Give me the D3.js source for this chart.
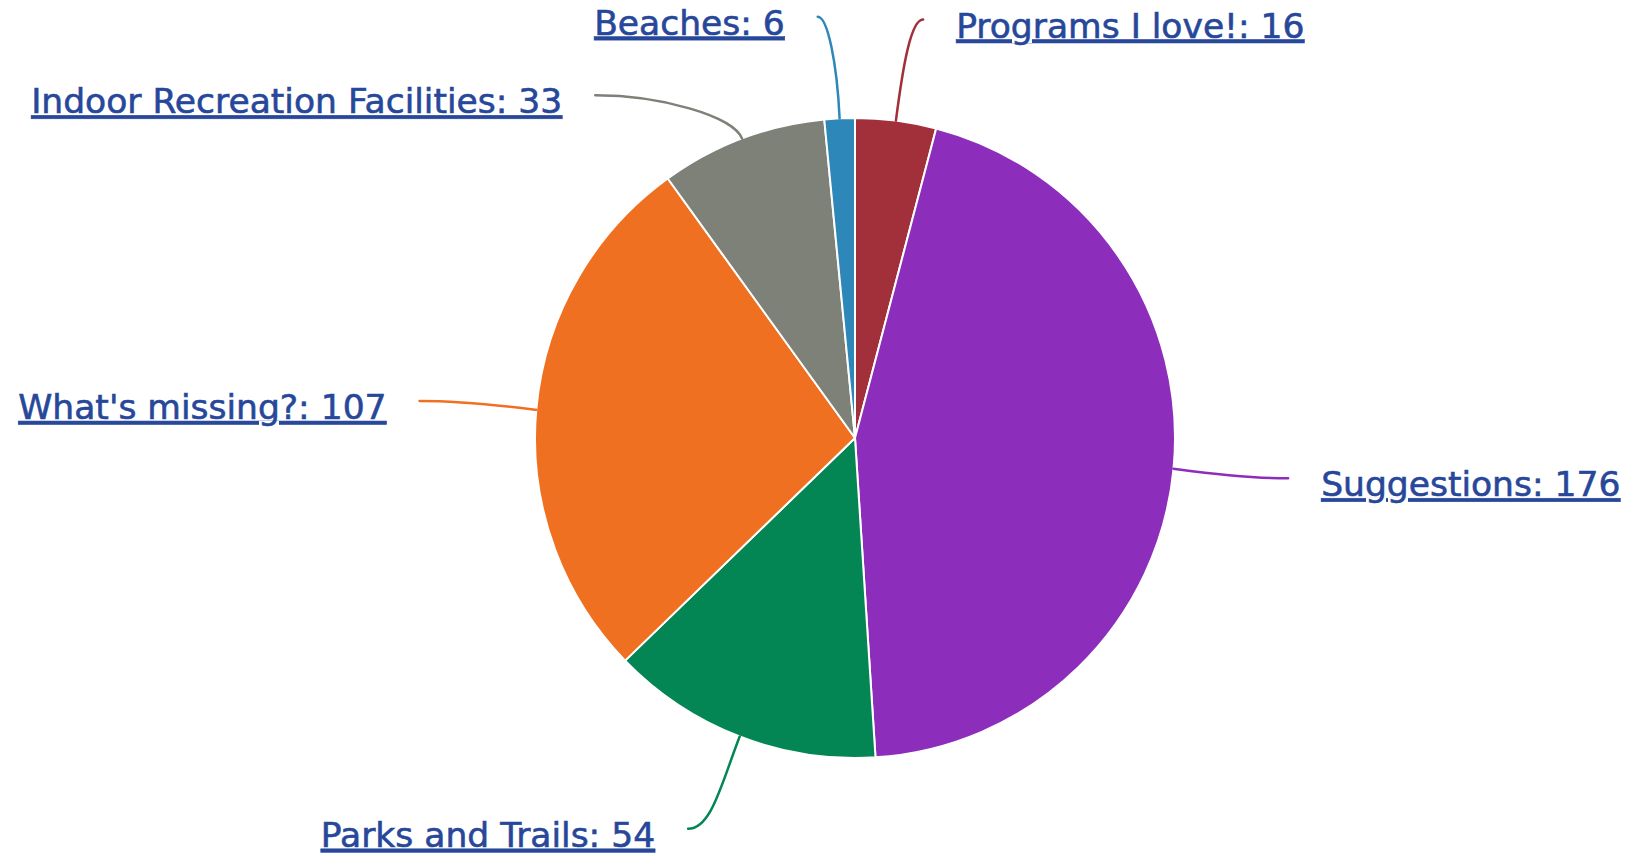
<!DOCTYPE html>
<html>
<head>
<meta charset="utf-8">
<script src="https://cdn.jsdelivr.net/npm/d3@7"></script>
<style>
  html, body { margin: 0; padding: 0; background: #ffffff; }
  svg { display: block; }
  .label { font-family: "DejaVu Sans", Verdana, sans-serif; fill: #27479a; stroke: #27479a; stroke-width: 0.6px; text-decoration: underline; }
</style>
</head>
<body>
<div id="chart"></div>
<script>
// Responses by topic, clockwise from 12 o'clock
const categories = ["Programs I love!", "Suggestions", "Parks and Trails", "What's missing?", "Indoor Recreation Facilities", "Beaches"];
const counts = [16, 176, 54, 107, 33, 6];
const colors = ["#a2303a", "#8d2dbb", "#038654", "#f07022", "#7d8177", "#2e87b9"];

// Label placement: angle nudge (degrees) and distance beyond the rim for each connector end
const labelNudge = [1.9, -0.2, 2.0, -0.2, -16.5, -2.3];
const labelReach = [104, 115, 105, 117, 110, 103];

const width = 1631, height = 857;
const cx = 855, cy = 438, radius = 320;

const svg = d3.select("#chart").append("svg")
  .attr("width", width).attr("height", height);

const data = categories.map((c, i) => ({ name: c, value: counts[i], color: colors[i], i }));

const pie = d3.pie().sort(null).value(d => d.value);
const arcs = pie(data);
const arc = d3.arc().innerRadius(0).outerRadius(radius);

const g = svg.append("g").attr("transform", `translate(${cx},${cy})`);

g.selectAll("path.slice")
  .data(arcs)
  .join("path")
  .attr("class", "slice")
  .attr("d", arc)
  .attr("fill", d => d.data.color)
  .attr("stroke", "#ffffff")
  .attr("stroke-width", 2)
  .attr("stroke-linejoin", "round");

const pt = (ang, r) => [Math.sin(ang) * r, -Math.cos(ang) * r];
const rad = Math.PI / 180;

arcs.forEach((a, k) => {
  const mid = (a.startAngle + a.endAngle) / 2;
  const edge = pt(mid, radius);
  const endAng = mid + labelNudge[k] * rad;
  const end = pt(endAng, radius + labelReach[k]);
  const side = end[0] >= 0 ? 1 : -1;
  const dx = Math.abs(end[0] - edge[0]);
  const dy = Math.abs(end[1] - edge[1]);
  const radial = [Math.sin(mid), -Math.cos(mid)];
  const c1 = [edge[0] + radial[0] * dy * 0.55, edge[1] + radial[1] * dy * 0.55];
  const c2 = [end[0] - side * dx * 0.45, end[1]];
  const p = d3.path();
  p.moveTo(edge[0], edge[1]);
  p.bezierCurveTo(c1[0], c1[1], c2[0], c2[1], end[0], end[1]);

  g.append("path")
    .attr("d", p.toString())
    .attr("fill", "none")
    .attr("stroke", a.data.color)
    .attr("stroke-width", 2.5)
    .attr("stroke-linecap", "round");

  g.append("text")
    .attr("class", "label")
    .attr("x", end[0] + side * 33)
    .attr("y", end[1] + 18)
    .attr("text-anchor", side > 0 ? "start" : "end")
    .attr("font-size", 34.5)
    .text(`${a.data.name}: ${a.data.value}`);
});
</script>
</body>
</html>
